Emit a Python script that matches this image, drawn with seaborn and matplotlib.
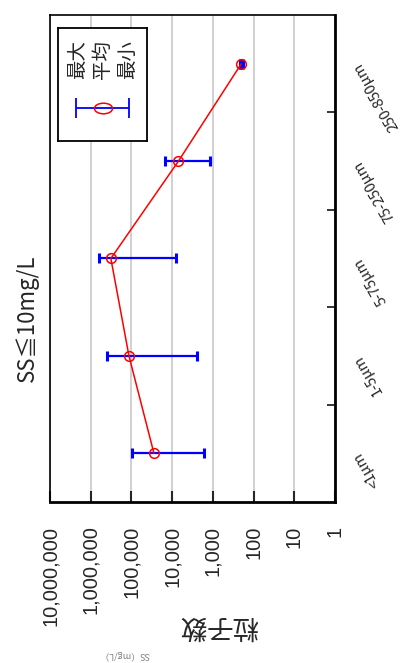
import numpy as np
import pandas as pd
import matplotlib
matplotlib.use('Agg')
import matplotlib.pyplot as plt
from matplotlib.path import Path
from matplotlib.transforms import Affine2D
from matplotlib.ticker import NullLocator
import seaborn as sns

# data (particle counts per size class)
categories = ['<1μm', '1-5μm', '5-75μm', '75-250μm', '250-850μm']
mean_vals = [28000, 115000, 320000, 7000, 200]
min_vals = [1650, 2500, 8000, 1200, 185]
max_vals = [97000, 400000, 630000, 15000, 220]
decades = [10000000, 1000000, 100000, 10000, 1000, 100, 10, 1]
legend_labels = ['最大', '平均', '最小']
title = 'SS≦10mg/L'
ylabel = '粒子数'
footer = 'SS（mg/L）'

sns.set_style('white')
plt.rcParams['font.family'] = ['Liberation Sans', 'Noto Sans CJK JP', 'DejaVu Sans']
cjk = ['Noto Sans CJK JP', 'DejaVu Sans']

df = pd.DataFrame({
    'cat': categories,
    'pos': np.arange(len(categories)),
    'mean': mean_vals,
    'min': min_vals,
    'max': max_vals,
})

fig = plt.figure(figsize=(4.05, 6.63), dpi=100)
ax = fig.add_axes([50 / 405, 1 - 502 / 663, 285 / 405, 487 / 663])

# error bars (min .. max), chart is drawn rotated 90 degrees
xerr = [df['mean'] - df['min'], df['max'] - df['mean']]
ax.errorbar(df['mean'], df['pos'], xerr=xerr, fmt='none', ecolor='blue',
            elinewidth=1.6, capsize=3.8, capthick=2.2, zorder=3)

sns.lineplot(data=df, x='mean', y='pos', orient='y', sort=False, ax=ax,
             color='red', lw=1.1, marker='o', markersize=7,
             markerfacecolor='none', markeredgecolor='red',
             markeredgewidth=1.1, zorder=4)

ax.set_xscale('log')
ax.set_xlim(decades[0], decades[-1])
ax.set_xticks(decades, [f'{v:,}' for v in decades])
ax.xaxis.set_minor_locator(NullLocator())
ax.tick_params(axis='x', direction='in', length=8, width=1.5, pad=17,
               labelsize=14.5, labelrotation=90, bottom=True)
ax.grid(axis='x', color='#c8c8c8', lw=1.2)
ax.grid(axis='y', visible=False)

ax.set_ylim(-0.5, len(categories) - 0.5)
ax.set_yticks(df['pos'][:-1] + 0.5, [])
ax.set_yticks(df['pos'], categories, minor=True, rotation=120, ha='right',
              va='center', rotation_mode='anchor', family=cjk, fontsize=10.5)
ax.tick_params(axis='y', which='both', left=False, right=True,
               labelleft=False, labelright=True, direction='in')
ax.tick_params(axis='y', which='major', length=6, width=1.3)
ax.tick_params(axis='y', which='minor', length=0, pad=16)

ax.set_xlabel(ylabel, rotation=180, fontsize=19, family=cjk)
ax.xaxis.set_label_coords(0.593, -0.226)
ax.set_ylabel('')

for side in ['left', 'top']:
    ax.spines[side].set_linewidth(1.2)
for side in ['right', 'bottom']:
    ax.spines[side].set_linewidth(2)
for sp in ax.spines.values():
    sp.set_color('black')

fig.text(27 / 405, 1 - 318 / 663, title, rotation=90, fontsize=16,
         ha='center', va='center', family=cjk)
fig.text(124 / 405, 1 - 655 / 663, footer, rotation=180, fontsize=6.5,
         ha='center', va='center', color='#808080', family=cjk)

# hand-made legend box
lax = fig.add_axes([58 / 405, 1 - 141 / 663, 89 / 405, 113 / 663])
lax.set_xlim(0, 1)
lax.set_ylim(0, 1)
lax.set_xticks([])
lax.set_yticks([])
for sp in lax.spines.values():
    sp.set_linewidth(1.3)
    sp.set_color('black')
for i, lab in enumerate(legend_labels):
    lax.text(0.225 + i * 0.28, 0.72, lab, rotation=90, fontsize=14,
             ha='center', va='center', family=cjk)
ellipse = Path.unit_circle().transformed(Affine2D().scale(1.7, 1.0))
lax.errorbar([0.5], [0.29], xerr=[[0.3], [0.3]], fmt='none', ecolor='blue',
             elinewidth=1.3, capsize=7.5, capthick=1.3)
lax.plot([0.5], [0.29], marker=ellipse, markersize=13, color='red',
         markerfacecolor='none', markeredgewidth=1.1, linestyle='none')

fig.savefig('out.png', dpi=100)
